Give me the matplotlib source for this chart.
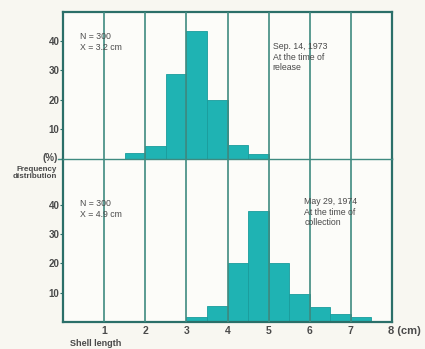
import matplotlib
matplotlib.use("Agg")
import matplotlib.pyplot as plt
import numpy as np

plt.rcParams['font.family'] = ['Liberation Sans', 'DejaVu Sans']

# Data (bin left edges in cm, frequencies in %)
release_edges = [1.5, 2.0, 2.5, 3.0, 3.5, 4.0, 4.5]
release_freq = [2.2, 4.5, 28.8, 43.5, 20.0, 4.8, 1.8]
collect_edges = [3.0, 3.5, 4.0, 4.5, 5.0, 5.5, 6.0, 6.5, 7.0]
collect_freq = [1.7, 5.4, 20.3, 38.0, 20.3, 9.4, 5.1, 2.9, 1.7]
y_ticks = [10, 20, 30, 40]
x_ticks = [1, 2, 3, 4, 5, 6, 7]
bin_width = 0.5

bg = '#f8f7f1'
bar_c = '#1fb3b3'
frame_c = '#2b6f69'
grid_c = '#3f8a80'
text_c = '#4a4a4a'

fig = plt.figure(figsize=(4.25, 3.49), dpi=100, facecolor=bg)
L, R = 63 / 425, 392 / 425
y_top = 1 - 12 / 349
y_mid = 1 - 159 / 349
y_bot = 1 - 322 / 349
ax2 = fig.add_axes([L, y_bot, R - L, y_mid - y_bot])
ax1 = fig.add_axes([L, y_mid, R - L, y_top - y_mid])
ax1.set_zorder(3)
ax2.set_zorder(1)

for ax, edges, freq, ymax in [(ax1, release_edges, release_freq, 49.8),
                               (ax2, collect_edges, collect_freq, 55.7)]:
    ax.set_facecolor('#fcfcf9')
    ax.bar(edges, freq, width=bin_width, align='edge', color=bar_c,
           edgecolor='#1a9c9c', linewidth=0.6, zorder=2)
    for xv in x_ticks:
        ax.axvline(xv, color=grid_c, lw=1.2, zorder=3)
    ax.set_xlim(0, 8)
    ax.set_ylim(0, ymax)
    ax.set_yticks(y_ticks)
    ax.set_yticklabels([str(v) for v in y_ticks], fontsize=7, color=text_c,
                       fontweight='bold')
    ax.tick_params(axis='y', length=2, width=0.8, color=frame_c, pad=0.5)
    for s in ax.spines.values():
        s.set_color(frame_c)
        s.set_linewidth(1.6)

ax1.spines['bottom'].set_linewidth(1.0)
ax1.spines['bottom'].set_color(grid_c)
ax2.spines['top'].set_visible(False)
ax1.set_xticks([])
ax2.set_xticks(x_ticks)
ax2.set_xticklabels([str(v) for v in x_ticks], fontsize=7.5, color=text_c,
                    fontweight='bold')
ax2.tick_params(axis='x', length=0, pad=3)

# small extension of middle line to the left of the frame
fig.add_artist(plt.Line2D([58 / 425, L], [y_mid, y_mid], color=grid_c, lw=1.0))

tk = dict(fontsize=6.3, color=text_c, va='top', ha='left', linespacing=1.2)
ax1.text(0.41, 42.9, "N = 300\nX = 3.2 cm", **tk)
ax1.text(5.1, 39.5, "Sep. 14, 1973\nAt the time of\nrelease", **tk)
ax2.text(0.41, 41.9, "N = 300\nX = 4.9 cm", **tk)
ax2.text(5.87, 42.6, "May 29, 1974\nAt the time of\ncollection", **tk)

fig.text(58 / 425, 1 - 158 / 349, "(%)", fontsize=7, color=text_c,
         fontweight='bold', ha='right', va='center')
fig.text(57 / 425, 1 - 173 / 349, "Frequency\ndistribution", fontsize=5.8,
         color=text_c, fontweight='bold', ha='right', va='center',
         linespacing=1.0)
fig.text(388 / 425, 1 - 331 / 349, "8 (cm)", fontsize=8, color=text_c,
         fontweight='bold', ha='left', va='center')
fig.text(96 / 425, 1 - 343 / 349, "Shell length", fontsize=6.5, color=text_c,
         fontweight='bold', ha='center', va='center')

fig.savefig("out.png", dpi=100, facecolor=bg)
